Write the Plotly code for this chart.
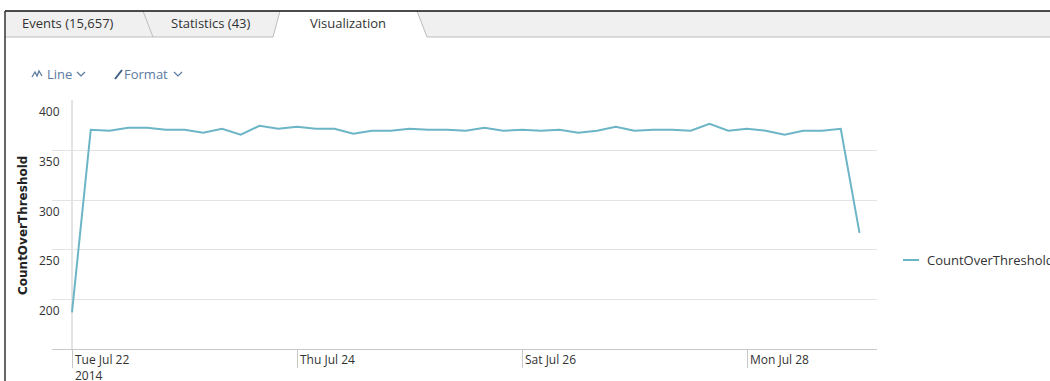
import pandas as pd
import plotly.graph_objects as go

# ---- data -------------------------------------------------------------
series_name = "CountOverThreshold"
start_time = "2014-07-22 00:00"
bucket = "4h"
count_over_threshold = [
    187, 371, 370, 373, 373, 371, 371, 368, 372, 366, 375,
    372, 374, 372, 372, 367, 370, 370, 372, 371, 371, 370,
    373, 370, 371, 370, 371, 368, 370, 374, 370, 371, 371,
    370, 377, 370, 372, 370, 366, 370, 370, 372, 267,
]
times = pd.date_range(start_time, periods=len(count_over_threshold), freq=bucket)

x_tick_dates = ["2014-07-22", "2014-07-24", "2014-07-26", "2014-07-28"]
x_tick_text = ["Tue Jul 22", "Thu Jul 24", "Sat Jul 26", "Mon Jul 28"]
x_year_label = "2014"
y_ticks = [200, 250, 300, 350, 400]

tab_labels = ["Events (15,657)", "Statistics (43)", "Visualization"]

# ---- geometry ---------------------------------------------------------
W, H = 1050, 381
L, R, T, B = 52, 877, 100, 349          # plot area in pixels


def xp(px):
    return (px - L) / (R - L)


def yp(py):
    return (B - py) / (B - T)


def path(points, close=False):
    s = "M " + " L ".join(f"{xp(x):.5f},{yp(y):.5f}" for x, y in points)
    return s + (" Z" if close else "")


TEXT = "#333333"
LINK = "#5a7aa0"
GRID = "#e3e3e3"
AXIS = "#c8c8c8"
LINE = "#6cb5c6"
FONT = "Open Sans"

fig = go.Figure()
fig.add_trace(go.Scatter(
    x=times, y=count_over_threshold, mode="lines", name=series_name,
    line=dict(color=LINE, width=2), showlegend=False,
))

shapes = []
annotations = []

# tab bar
shapes.append(dict(type="path", xref="paper", yref="paper",
                   path=path([(5, 11), (W, 11), (W, 37), (5, 37)], True),
                   fillcolor="#f0f0f0", line=dict(width=0), layer="above"))
shapes.append(dict(type="path", xref="paper", yref="paper",
                   path=path([(280, 11), (417, 11), (427, 38), (273, 38)], True),
                   fillcolor="#ffffff", line=dict(width=0), layer="above"))
for seg in [[(143, 11), (153, 37)], [(280, 11), (273, 37)], [(417, 11), (427, 37)],
            [(5, 37), (273, 37)], [(427, 37), (W, 37)]]:
    shapes.append(dict(type="path", xref="paper", yref="paper", path=path(seg),
                       line=dict(color="#bdbdbd", width=1), layer="above"))
shapes.append(dict(type="path", xref="paper", yref="paper",
                   path=path([(5, 11), (W, 11)]),
                   line=dict(color="#111111", width=1.5), layer="above"))
shapes.append(dict(type="path", xref="paper", yref="paper",
                   path=path([(5, 11), (5, H)]),
                   line=dict(color="#333333", width=1.5), layer="above"))

for label, cx in zip(tab_labels, [68, 211, 348]):
    annotations.append(dict(text=label, xref="paper", yref="paper",
                            x=xp(cx), y=yp(23), xanchor="center", yanchor="middle",
                            showarrow=False,
                            font=dict(family=FONT, size=13, color=TEXT)))

# toolbar: "Line" and "Format" menus
shapes.append(dict(type="path", xref="paper", yref="paper",
                   path=path([(32, 77), (35, 72), (37, 76), (39, 71), (42, 76)]),
                   line=dict(color=LINK, width=1.3), layer="above"))
shapes.append(dict(type="path", xref="paper", yref="paper",
                   path=path([(115, 79), (122, 70)]),
                   line=dict(color="#3f5f85", width=2), layer="above"))
for cx in (81, 178):
    shapes.append(dict(type="path", xref="paper", yref="paper",
                       path=path([(cx - 4, 72), (cx, 76), (cx + 4, 72)]),
                       line=dict(color=LINK, width=1.2), layer="above"))
annotations.append(dict(text="Line", xref="paper", yref="paper", x=xp(45), y=yp(74),
                        xanchor="left", yanchor="middle", showarrow=False,
                        font=dict(family=FONT, size=13, color=LINK)))
annotations.append(dict(text="Format", xref="paper", yref="paper", x=xp(122), y=yp(74),
                        xanchor="left", yanchor="middle", showarrow=False,
                        font=dict(family=FONT, size=13, color=LINK)))

# left edge of the time axis
shapes.append(dict(type="line", xref="x", yref="paper",
                   x0=x_tick_dates[0], x1=x_tick_dates[0], y0=0, y1=1,
                   line=dict(color=AXIS, width=1), layer="below"))

# x tick labels (left-aligned next to each tick; the first one carries the year)
for i, (d, t) in enumerate(zip(x_tick_dates, x_tick_text)):
    text = f"{t}<br>{x_year_label}" if i == 0 else t
    annotations.append(dict(text=text, x=d, xref="x", y=0, yref="paper",
                            xanchor="left", yanchor="top", align="left",
                            xshift=2, yshift=-1, borderpad=0, showarrow=False,
                            font=dict(family=FONT, size=12, color=TEXT)))

# y tick labels
for v in y_ticks:
    annotations.append(dict(text=str(v), x=xp(62), xref="paper", y=v, yref="y",
                            xanchor="right", yanchor="middle", yshift=-11,
                            showarrow=False,
                            font=dict(family=FONT, size=12, color=TEXT)))

# y axis title
annotations.append(dict(text="<b>CountOverThreshold</b>", xref="paper", yref="paper",
                        x=xp(23), y=yp(226), xanchor="center", yanchor="middle",
                        textangle=-90, showarrow=False,
                        font=dict(family="DejaVu Sans", size=12, color="#222222")))

# legend
shapes.append(dict(type="line", xref="paper", yref="paper",
                   x0=xp(903), x1=xp(919), y0=yp(260), y1=yp(260),
                   line=dict(color=LINE, width=2), layer="above"))
annotations.append(dict(text=series_name, xref="paper", yref="paper",
                        x=xp(925), y=yp(260), xanchor="left", yanchor="middle",
                        showarrow=False,
                        font=dict(family=FONT, size=13, color=TEXT)))

x0 = pd.Timestamp(x_tick_dates[0])
day_px = 112.5
x_range = [x0 - pd.Timedelta(days=(72 - L) / day_px),
           x0 + pd.Timedelta(days=(R - 72) / day_px)]

fig.update_layout(
    width=W, height=H, autosize=False,
    margin=dict(l=L, r=W - R, t=T, b=H - B, pad=0),
    paper_bgcolor="white", plot_bgcolor="white",
    showlegend=False,
    shapes=shapes, annotations=annotations,
    xaxis=dict(type="date", range=x_range, showgrid=False, zeroline=False,
               showline=True, linecolor=AXIS, linewidth=1,
               tickmode="array", tickvals=x_tick_dates, ticktext=x_tick_text,
               showticklabels=False, ticks="outside", ticklen=18,
               tickcolor=AXIS, tickwidth=1),
    yaxis=dict(range=[150, 401], tickmode="array", tickvals=y_ticks,
               showticklabels=False, showgrid=True, gridcolor=GRID, gridwidth=1,
               zeroline=False, showline=False, ticks=""),
)

fig.write_html("out.html")
